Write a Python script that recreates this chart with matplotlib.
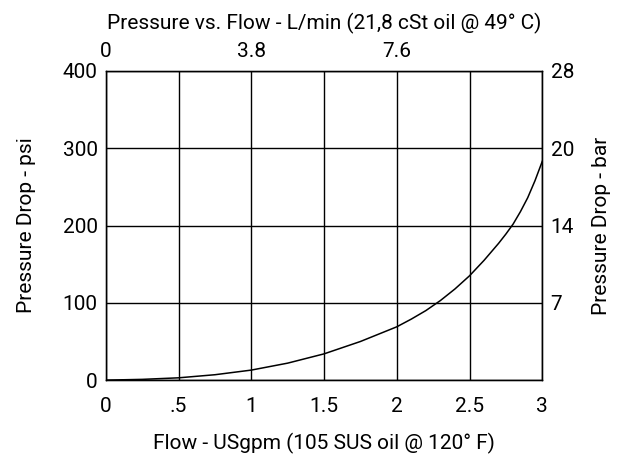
import matplotlib.pyplot as plt

plt.rcParams['font.family'] = ['Roboto', 'DejaVu Sans']

# flow (USgpm) vs pressure drop (psi)
flow = [0, 0.25, 0.5, 0.75, 1.0, 1.25, 1.5, 1.75, 2.0, 2.1, 2.2, 2.3, 2.4, 2.5,
        2.6, 2.7, 2.75, 2.8, 2.85, 2.9, 2.95, 3.0]
psi = [0, 1, 3, 7, 13, 22, 34, 50, 69, 79, 90, 103, 118, 135,
       155, 177, 189, 202, 218, 236, 258, 283]

x_ticks = [0, 0.5, 1, 1.5, 2, 2.5, 3]
x_labels = ['0', '.5', '1', '1.5', '2', '2.5', '3']
y_ticks = [0, 100, 200, 300, 400]
top_ticks = [0, 1, 2]
top_labels = ['0', '3.8', '7.6']
right_ticks = [100, 200, 300, 400]
right_labels = ['7', '14', '20', '28']

fs = 15

fig = plt.figure(figsize=(6.19, 4.58), dpi=100)
ax = fig.add_axes([0.171, 0.170, 0.705, 0.675])

ax.plot(flow, psi, color='black', linewidth=1.1)

ax.set_xlim(0, 3)
ax.set_ylim(0, 400)
ax.set_xticks(x_ticks)
ax.set_xticklabels(x_labels)
ax.set_yticks(y_ticks)
ax.grid(True, color='black', linewidth=1)
ax.tick_params(axis='x', length=0, labelsize=fs, pad=12)
ax.tick_params(axis='y', length=0, labelsize=fs, pad=6)
for s in ax.spines.values():
    s.set_linewidth(1)
ax.set_xlabel('Flow - USgpm (105 SUS oil @ 120° F)', fontsize=fs, labelpad=12)
ax.set_ylabel('Pressure Drop - psi', fontsize=fs, labelpad=19)

top = ax.twiny()
top.set_xlim(0, 3)
top.set_xticks(top_ticks)
top.set_xticklabels(top_labels)
top.tick_params(length=0, labelsize=fs, pad=7)
top.set_xlabel('Pressure vs. Flow - L/min (21,8 cSt oil @ 49° C)', fontsize=fs, labelpad=9)

right = ax.twinx()
right.set_ylim(0, 400)
right.set_yticks(right_ticks)
right.set_yticklabels(right_labels)
right.tick_params(length=0, labelsize=fs, pad=6)
right.set_ylabel('Pressure Drop - bar', fontsize=fs, labelpad=13)

fig.savefig('out.png', dpi=100)
